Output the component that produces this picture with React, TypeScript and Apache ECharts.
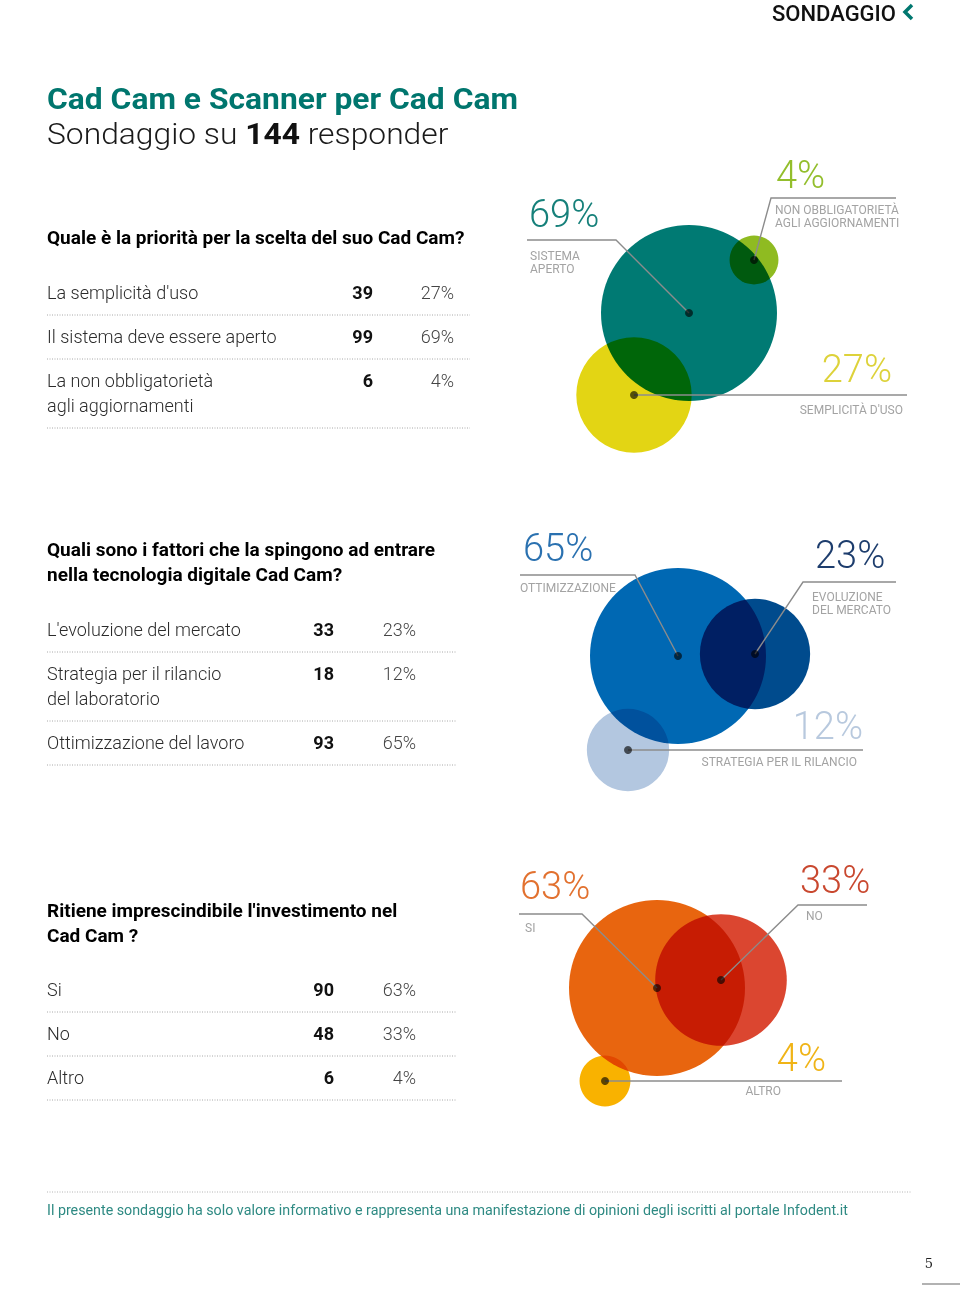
import { useEffect, useRef } from 'react';
import * as echarts from 'echarts';

// ---------- DATA ----------
const respondents = 144;

const q1Question = ['Quale è la priorità per la scelta del suo Cad Cam?'];
const q1Labels = ["La semplicità d'uso", 'Il sistema deve essere aperto', 'La non obbligatorietà\nagli aggiornamenti'];
const q1Counts = [39, 99, 6];
const q1Pcts = [27, 69, 4];
const q1Tags = ["SEMPLICITÀ D'USO", 'SISTEMA\nAPERTO', 'NON OBBLIGATORIETÀ\nAGLI AGGIORNAMENTI'];

const q2Question = ['Quali sono i fattori che la spingono ad entrare', 'nella tecnologia digitale Cad Cam?'];
const q2Labels = ["L'evoluzione del mercato", 'Strategia per il rilancio\ndel laboratorio', 'Ottimizzazione del lavoro'];
const q2Counts = [33, 18, 93];
const q2Pcts = [23, 12, 65];
const q2Tags = ['EVOLUZIONE\nDEL MERCATO', 'STRATEGIA PER IL RILANCIO', 'OTTIMIZZAZIONE'];

const q3Question = ["Ritiene imprescindibile l'investimento nel", 'Cad Cam ?'];
const q3Labels = ['Si', 'No', 'Altro'];
const q3Counts = [90, 48, 6];
const q3Pcts = [63, 33, 4];
const q3Tags = ['SI', 'NO', 'ALTRO'];

// ---------- LAYOUT / STYLE ----------
const W = 960;
const H = 1309;
const FONT = 'Roboto, "Noto Sans", sans-serif';

type Item = { c: [number, number]; path: [number, number][]; pctX: number; pctY: number; tagX: number; tagY: number; align: 'left' | 'right'; color: string; text: string };

const LAYOUT1: Item[] = [
  { c: [634, 395], path: [[907, 395]], pctX: 892, pctY: 369, tagX: 903, tagY: 410, align: 'right', color: '#e3d514', text: '#ddd23a' },
  { c: [689, 313], path: [[616, 240], [527, 240]], pctX: 529, pctY: 214, tagX: 530, tagY: 262, align: 'left', color: '#007a73', text: '#16807a' },
  { c: [754, 260], path: [[771, 198], [896, 198]], pctX: 776, pctY: 175, tagX: 775, tagY: 216, align: 'left', color: '#8fbb21', text: '#93be2c' },
];
const LAYOUT2: Item[] = [
  { c: [755, 654], path: [[803, 582], [896, 582]], pctX: 815, pctY: 555, tagX: 812, tagY: 603, align: 'left', color: '#004b8d', text: '#1d3d6d' },
  { c: [628, 750], path: [[863, 750]], pctX: 863, pctY: 726, tagX: 857, tagY: 762, align: 'right', color: '#b3c7e0', text: '#b8c9de' },
  { c: [678, 656], path: [[635, 575], [520, 575]], pctX: 523, pctY: 548, tagX: 520, tagY: 588, align: 'left', color: '#0068b3', text: '#2a71b0' },
];
const LAYOUT3: Item[] = [
  { c: [657, 988], path: [[582, 914], [519, 914]], pctX: 520, pctY: 886, tagX: 525, tagY: 928, align: 'left', color: '#e8650f', text: '#e2712f' },
  { c: [721, 980], path: [[798, 905], [867, 905]], pctX: 800, pctY: 880, tagX: 806, tagY: 916, align: 'left', color: '#db4630', text: '#c9482f' },
  { c: [605, 1081], path: [[842, 1081]], pctX: 826, pctY: 1058, tagX: 781, tagY: 1091, align: 'right', color: '#f9b200', text: '#f0b417' },
];

const TABLES = [
  { headY: 237, rowY: 292, numR: 373, pctR: 454, lineR: 470 },
  { headY: 549, rowY: 629, numR: 334, pctR: 416, lineR: 457 },
  { headY: 910, rowY: 989, numR: 334, pctR: 416, lineR: 457 },
];

const BIG = 176;
const bubbleSize = (v: number, max: number) => BIG * Math.pow(v / max, 0.45);

function buildOption() {
  const blocks = [
    { q: q1Question, labels: q1Labels, counts: q1Counts, pcts: q1Pcts, tags: q1Tags, lay: LAYOUT1, t: TABLES[0] },
    { q: q2Question, labels: q2Labels, counts: q2Counts, pcts: q2Pcts, tags: q2Tags, lay: LAYOUT2, t: TABLES[1] },
    { q: q3Question, labels: q3Labels, counts: q3Counts, pcts: q3Pcts, tags: q3Tags, lay: LAYOUT3, t: TABLES[2] },
  ];

  const series: any[] = [];
  const graphics: any[] = [];
  const LX = 47;

  blocks.forEach((b, bi) => {
    const max = Math.max(...b.pcts);
    series.push({
      type: 'scatter',
      name: 'bubbles' + bi,
      symbol: 'circle',
      silent: true,
      z: 2,
      data: b.pcts.map((p, i) => ({
        value: b.lay[i].c,
        symbolSize: bubbleSize(p, max),
        itemStyle: { color: b.lay[i].color, opacity: 1 },
      })),
    });
    series.push({
      type: 'lines',
      coordinateSystem: 'cartesian2d',
      polyline: true,
      silent: true,
      z: 3,
      lineStyle: { color: '#8c8c8c', width: 1.4, opacity: 1 },
      data: b.lay.map((l) => ({ coords: [l.c, ...l.path] })),
    });
    series.push({
      type: 'scatter',
      symbol: 'circle',
      symbolSize: 8,
      silent: true,
      z: 4,
      itemStyle: { color: '#5e5e5e', opacity: 1 },
      data: b.lay.map((l) => l.c),
    });

    // bubble labels
    b.lay.forEach((l, i) => {
      graphics.push({
        type: 'text', x: l.pctX, y: l.pctY, silent: true,
        style: { text: b.pcts[i] + '%', fill: l.text, font: `300 38px ${FONT}`, textAlign: l.align, textVerticalAlign: 'middle' },
      });
      graphics.push({
        type: 'text', x: l.tagX, y: l.tagY, silent: true,
        style: { text: b.tags[i], fill: '#a3a3a3', font: `12px ${FONT}`, lineHeight: 13, textAlign: l.align, textVerticalAlign: 'middle' },
      });
    });

    // table
    b.q.forEach((line, k) => {
      graphics.push({
        type: 'text', x: LX, y: b.t.headY + k * 25, silent: true,
        style: { text: line, fill: '#000', font: `bold 19px ${FONT}`, textAlign: 'left', textVerticalAlign: 'middle' },
      });
    });
    let y = b.t.rowY;
    b.labels.forEach((lab, i) => {
      const lines = lab.split('\n');
      lines.forEach((ln, k) => {
        graphics.push({
          type: 'text', x: LX, y: y + k * 25, silent: true,
          style: { text: ln, fill: '#2b2b2b', font: `300 18px ${FONT}`, textAlign: 'left', textVerticalAlign: 'middle' },
        });
      });
      graphics.push({
        type: 'text', x: b.t.numR, y, silent: true,
        style: { text: String(b.counts[i]), fill: '#111', font: `bold 18px ${FONT}`, textAlign: 'right', textVerticalAlign: 'middle' },
      });
      graphics.push({
        type: 'text', x: b.t.pctR, y, silent: true,
        style: { text: b.pcts[i] + '%', fill: '#444', font: `300 18px ${FONT}`, textAlign: 'right', textVerticalAlign: 'middle' },
      });
      const sep = y + (lines.length - 1) * 25 + 23;
      graphics.push({
        type: 'line', silent: true,
        shape: { x1: LX, y1: sep, x2: b.t.lineR, y2: sep },
        style: { stroke: '#a8a8a8', lineWidth: 1, lineDash: [1, 1.5] },
      });
      y = sep + 21;
    });
  });

  // header
  graphics.push({
    type: 'text', x: 896, y: 13, silent: true,
    style: { text: 'SONDAGGIO', fill: '#111', font: `500 22px ${FONT}`, textAlign: 'right', textVerticalAlign: 'middle' },
  });
  graphics.push({
    type: 'polyline', silent: true,
    shape: { points: [[912, 5], [905, 12], [912, 19]] },
    style: { stroke: '#00776f', lineWidth: 3.5, fill: 'none' },
  });
  graphics.push({
    type: 'text', x: 47, y: 99, scaleX: 1.06, silent: true,
    style: { text: 'Cad Cam e Scanner per Cad Cam', fill: '#00766e', font: `bold 30px ${FONT}`, textAlign: 'left', textVerticalAlign: 'middle' },
  });
  graphics.push({
    type: 'text', x: 47, y: 134, scaleX: 1.06, silent: true,
    style: {
      text: `{a|Sondaggio su }{b|${respondents}}{a| responder}`,
      textAlign: 'left', textVerticalAlign: 'middle',
      rich: {
        a: { fill: '#1a1a1a', font: `300 30px ${FONT}` },
        b: { fill: '#111', font: `bold 30px ${FONT}` },
      },
    },
  });

  // footer
  graphics.push({
    type: 'line', silent: true,
    shape: { x1: 47, y1: 1192, x2: 912, y2: 1192 },
    style: { stroke: '#b5b5b5', lineWidth: 1, lineDash: [1, 1.5] },
  });
  graphics.push({
    type: 'text', x: 47, y: 1210, scaleX: 1.02, silent: true,
    style: {
      text: 'Il presente sondaggio ha solo valore informativo e rappresenta una manifestazione di opinioni degli iscritti al portale Infodent.it',
      fill: '#2e8a83', font: `14px ${FONT}`, textAlign: 'left', textVerticalAlign: 'middle',
    },
  });
  graphics.push({
    type: 'text', x: 929, y: 1263, silent: true,
    style: { text: '5', fill: '#222', font: '13px "DejaVu Serif", serif', textAlign: 'center', textVerticalAlign: 'middle' },
  });
  graphics.push({
    type: 'line', silent: true,
    shape: { x1: 922, y1: 1284, x2: 960, y2: 1284 },
    style: { stroke: '#999', lineWidth: 1.5 },
  });

  return {
    animation: false,
    grid: { left: 0, top: 0, right: 0, bottom: 0, containLabel: false },
    xAxis: { type: 'value', min: 0, max: W, show: false },
    yAxis: { type: 'value', min: 0, max: H, inverse: true, show: false },
    series,
    graphic: { elements: graphics },
  };
}

export default function App() {
  const ref = useRef<HTMLDivElement>(null);
  useEffect(() => {
    document.body.style.margin = '0';
    const chart = echarts.init(ref.current!, null, { renderer: 'svg' });
    chart.setOption(buildOption());
    return () => chart.dispose();
  }, []);
  return (
    <>
      <style>{`.infochart svg path, .infochart svg circle { mix-blend-mode: multiply; }`}</style>
      <div ref={ref} className="infochart" style={{ width: W, height: H, background: '#fff' }} />
    </>
  );
}
